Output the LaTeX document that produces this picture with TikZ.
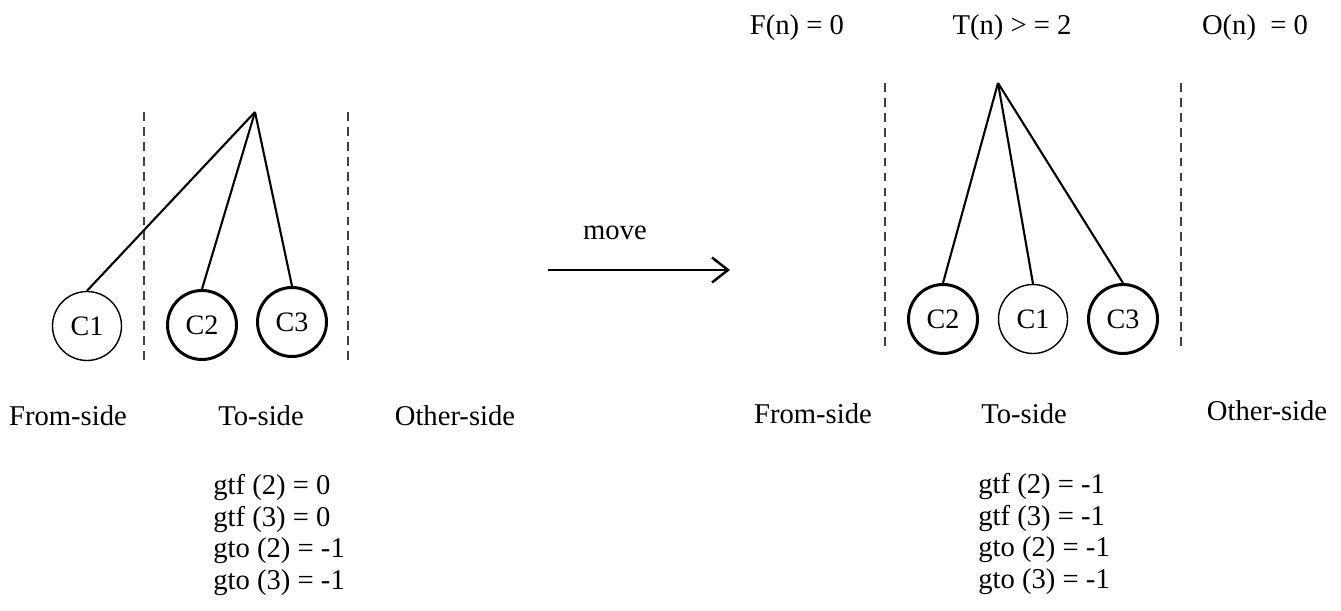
\documentclass[tikz,border=0pt]{standalone}
\usepackage{fontspec}
\setmainfont{Liberation Serif}
\usetikzlibrary{arrows.meta}

\begin{document}
\begin{tikzpicture}[x=0.02cm,y=-0.02cm,
  child/.style={circle,draw,line width=0.8pt,minimum size=1.38cm,inner sep=0pt,font=\fontsize{16}{18}\selectfont},
  moved/.style={child,line width=1.7pt},
  side/.style={draw,black!75,line width=0.7pt,dash pattern=on 5pt off 3.5pt},
  link/.style={line width=1.2pt},
  lbl/.style={inner sep=0pt,font=\fontsize{16.3}{18}\selectfont},
  gains/.style={lbl,align=left,anchor=west,font=\fontsize{16.3}{17.9}\selectfont},
  arr/.style={-{Straight Barb[length=3.2mm,width=5mm,line width=1.4pt]},line width=1.6pt}
]
\useasboundingbox (0,0) rectangle (1341,611);

% before the move
\coordinate (apexL) at (255,112);
\draw[side] (144,112) -- (144,360);
\draw[side] (348,112) -- (348,360);
\node[child] (c1L) at (87,326) {C1};
\node[moved] (c2L) at (202,325) {C2};
\node[moved] (c3L) at (292,322) {C3};
\foreach \c in {c1L,c2L,c3L}
  \draw[link] (apexL) -- (\c.north);
\node[lbl] (fromL)  at (68,416)  {From-side};
\node[lbl] (toL)    at (261,416) {To-side};
\node[lbl] (otherL) at (455,416) {Other-side};
\node[gains] (gainsL) at (213,535) {gtf (2) = 0\\gtf (3) = 0\\gto (2) = -1\\gto (3) = -1};

% the move
\node[lbl] (move) at (615,233) {move};
\coordinate (moveA) at (548,270);
\coordinate (moveB) at (730,270);
\draw[arr] (moveA) -- (moveB);

% after the move
\node[lbl] (fn) at (797,28)  {F(n) = 0};
\node[lbl] (tn) at (1012,28) {T(n) > = 2};
\node[lbl] (on) at (1255,28) {O(n) \ = 0};
\coordinate (apexR) at (998,83);
\draw[side] (885,83) -- (885,350);
\draw[side] (1181,83) -- (1181,350);
\node[moved] (c2R) at (943,319) {C2};
\node[child] (c1R) at (1033,319) {C1};
\node[moved] (c3R) at (1123,319) {C3};
\foreach \c in {c2R,c1R,c3R}
  \draw[link] (apexR) -- (\c.north);
\node[lbl] (fromR)  at (813,414)  {From-side};
\node[lbl] (toR)    at (1024,414) {To-side};
\node[lbl] (otherR) at (1267,411) {Other-side};
\node[gains] (gainsR) at (978,534) {gtf (2) = -1\\gtf (3) = -1\\gto (2) = -1\\gto (3) = -1};
\end{tikzpicture}
\end{document}
